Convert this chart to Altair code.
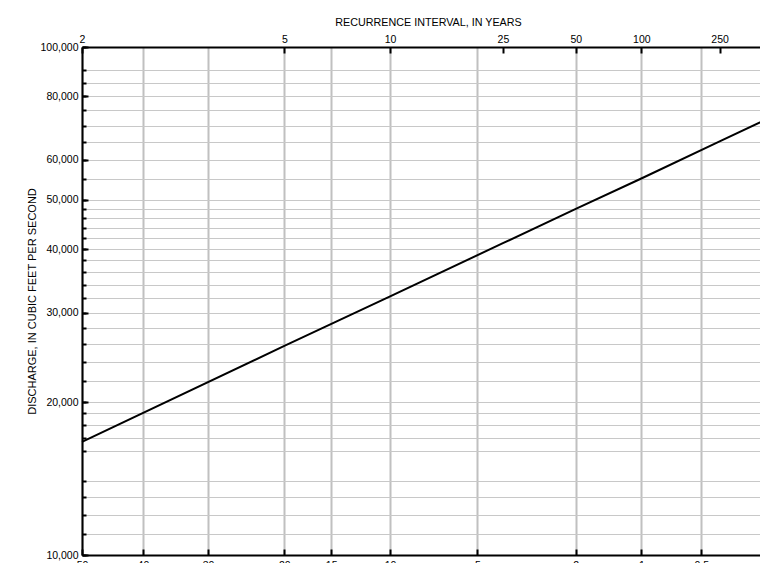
import altair as alt
import pandas as pd
from statistics import NormalDist

# ---- data ----
recurrence_years = [2, 5, 10, 25, 50, 100, 250, 500]
discharge_cfs = [16700, 25800, 32300, 41100, 48000, 55100, 65200, 73200]

top_tick_years = [2, 5, 10, 25, 50, 100, 250, 500]
bottom_tick_pct = [50, 40, 30, 20, 15, 10, 5, 2, 1, 0.5, 0.2]
y_label_values = [10000, 20000, 30000, 40000, 50000, 60000, 80000, 100000]
y_grid_values = [11000, 12000, 13000, 14000, 16000, 17000, 18000, 19000, 20000,
                 22000, 24000, 26000, 28000, 30000, 32000, 34000, 36000, 38000,
                 40000, 42000, 44000, 46000, 48000, 50000, 55000, 60000, 65000,
                 70000, 75000, 80000, 85000, 90000]
y_right_ticks = [10000, 20000, 30000, 40000, 50000, 60000, 70000, 80000, 90000, 100000]

# normal-probability positions for the axis ticks
nd = NormalDist()
top_z = [nd.inv_cdf(1 - 1 / t) for t in top_tick_years]
bottom_z = [nd.inv_cdf(1 - p / 100) for p in bottom_tick_pct]
x_max = top_z[-1]

df = pd.DataFrame({"T": recurrence_years, "Q": discharge_cfs})

W, H = 692, 508
xs = alt.Scale(domain=[0, x_max], nice=False, zero=False)
ys = alt.Scale(type="log", domain=[10000, 100000], nice=False)

base = alt.Chart(df).transform_calculate(z="quantileNormal(1 - 1 / datum.T)")

y_left_values = sorted(set(y_grid_values + y_label_values))
label_list = ",".join(str(v) for v in y_label_values)

line = base.mark_line(color="black", strokeWidth=2).encode(
    x=alt.X("z:Q", scale=xs, axis=alt.Axis(
        orient="top", values=top_z, title="RECURRENCE INTERVAL, IN YEARS",
        labelExpr="format(1 / (1 - cumulativeNormal(datum.value)), '.0f')",
        grid=False, tickSize={"expr": "-6"}, tickWidth=2, tickColor="black",
        domainColor="black", domainWidth=2, titleFontSize=10.75,
        labelFlush=False, labelOverlap=False, labelPadding=9, titlePadding=7)),
    y=alt.Y("Q:Q", scale=ys, axis=alt.Axis(
        orient="left", values=y_left_values,
        title="DISCHARGE, IN CUBIC FEET PER SECOND",
        labelExpr=f"indexof([{label_list}], datum.value) >= 0 ? format(datum.value, ',') : ''",
        grid=True, gridColor="#c8c8c8", gridWidth=1,
        tickSize={"expr": "-4"}, tickWidth=2, tickColor="black",
        domainColor="black", domainWidth=2, titleFontSize=11,
        labelFlush=False, labelOverlap=False, labelPadding=8, titlePadding=3)),
)

aux = base.mark_line(opacity=0).encode(
    x=alt.X("z:Q", scale=xs, axis=alt.Axis(
        orient="bottom", values=bottom_z, title="",
        labelExpr="format(100 * (1 - cumulativeNormal(datum.value)), '.2~r')",
        grid=True, gridColor="#c0c0c0", gridWidth=2,
        tickSize={"expr": "-6"}, tickWidth=2, tickColor="black",
        domainColor="black", domainWidth=2,
        labelFlush=False, labelOverlap=False, labelPadding=11)),
    y=alt.Y("Q:Q", scale=ys, axis=alt.Axis(
        orient="right", values=y_right_ticks, title="", labels=False,
        grid=False, tickSize={"expr": "-8"}, tickWidth=2, tickColor="black",
        domainColor="black", domainWidth=2)),
)

major = base.mark_line(opacity=0).encode(
    x=alt.X("z:Q", scale=xs, axis=None),
    y=alt.Y("Q:Q", scale=ys, axis=alt.Axis(
        orient="left", values=y_label_values, title="", labels=False,
        grid=False, domain=False, tickSize={"expr": "-6"}, tickWidth=2,
        tickColor="black")),
)

chart = alt.layer(aux, major, line).resolve_axis(
    x="independent", y="independent"
).properties(
    width=W, height=H,
    autosize=alt.AutoSizeParams(type="none"),
    padding={"left": 74, "top": 39, "right": -14, "bottom": 8},
).configure(
    font="Liberation Sans",
).configure_axis(
    labelFont="Liberation Sans", titleFont="Liberation Sans",
    labelFontSize=10.5, titleFontSize=10.5, titleFontWeight="normal",
    labelColor="black", titleColor="black",
).configure_view(stroke="transparent")

chart.save("out.html", embed_options={"renderer": "svg", "actions": False})
